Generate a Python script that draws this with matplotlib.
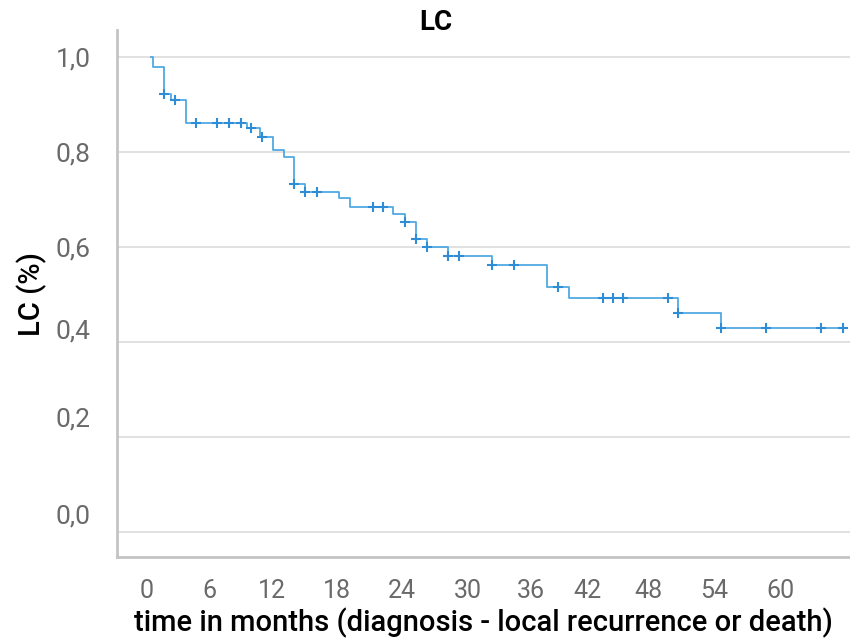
import numpy as np
import matplotlib
matplotlib.use("Agg")
import matplotlib.pyplot as plt
import matplotlib.transforms as mtransforms

plt.rcParams['font.family'] = ['Roboto', 'DejaVu Sans']

# Kaplan-Meier step data (months, survival after the drop)
event_t = [0.2, 1.2, 1.9, 3.3, 9.1, 10.3, 11.6, 12.6, 13.6, 14.6, 17.8, 18.9,
           22.9, 24.1, 25.1, 26.2, 28.2, 32.3, 37.5, 39.6, 50.0, 54.0]
event_s = [0.979, 0.922, 0.909, 0.861, 0.850, 0.831, 0.804, 0.789, 0.732, 0.716,
           0.703, 0.684, 0.669, 0.652, 0.616, 0.600, 0.581, 0.562, 0.515, 0.492,
           0.460, 0.429]
# censored observations
censor_t = [1.2, 2.3, 4.3, 6.3, 7.4, 8.5, 9.5, 10.5, 13.6, 14.6, 15.7, 21.0,
            22.0, 24.1, 25.1, 26.2, 28.2, 29.2, 32.3, 34.4, 38.6, 42.8, 43.8,
            44.7, 49.0, 50.0, 54.0, 58.3, 63.5, 65.6]
end_t = 65.6

yticks = [0.0, 0.2, 0.4, 0.6, 0.8, 1.0]
xticks = [0, 6, 12, 18, 24, 30, 36, 42, 48, 54, 60]

# step function
step_t = [0] + event_t + [end_t]
step_s = [1.0] + event_s + [event_s[-1]]

def surv_at(t):
    s = 1.0
    for et, es in zip(event_t, event_s):
        if et <= t + 1e-9:
            s = es
    return s

censor_s = [surv_at(t) for t in censor_t]

fig = plt.figure(figsize=(8.5, 6.42), dpi=100)
ax = fig.add_axes([117/850, 85/642, 733/850, 527/642])

ax.step(step_t, step_s, where='post', color='#52a9e2', lw=1.3, zorder=3)
ax.plot(censor_t, censor_s, linestyle='none', marker='+', color='#2e8dd6',
        markersize=7.5, mew=1.5, zorder=4)

ax.set_xlim(-3.22, 66.26)
ax.set_ylim(-0.0537, 1.0569)
ax.set_xticks(xticks)
ax.set_yticks(yticks)
ax.set_xticklabels([str(x) for x in xticks])
ax.set_yticklabels([('%.1f' % y).replace('.', ',') for y in yticks])
ax.grid(axis='y', color='#dcdcdc', lw=1.2)
ax.set_axisbelow(True)

for s in ['top', 'right']:
    ax.spines[s].set_visible(False)
for s in ['left', 'bottom']:
    ax.spines[s].set_color('#c4c4c4')
    ax.spines[s].set_linewidth(2)

ax.tick_params(axis='both', length=0, labelsize=18, labelcolor='#6a6a6a')
ax.tick_params(axis='x', pad=16)
ax.tick_params(axis='y', pad=19, labelsize=19)

# the original labels sit a little off their ticks
y_shift = [18, 20, 13, 0, 0, 0]
for lab, dy in zip(ax.get_yticklabels(), y_shift):
    lab.set_transform(lab.get_transform() +
                      mtransforms.ScaledTranslation(0, dy/100, fig.dpi_scale_trans))
x_shift = [-4, -5, -6, -4, -2, 0, 0, -7, -9, -6, -4]
for lab, dx in zip(ax.get_xticklabels(), x_shift):
    lab.set_transform(lab.get_transform() +
                      mtransforms.ScaledTranslation(dx/100, 0, fig.dpi_scale_trans))

ax.set_xlabel('time in months (diagnosis - local recurrence or death)',
              fontsize=21, fontweight='medium', color='black', labelpad=3)
ax.set_ylabel('LC (%)', fontsize=21, fontweight='medium', color='black', labelpad=6)
ax.set_title('LC', fontsize=20, fontweight='bold', x=0.435, y=1.0, pad=0)

fig.savefig('out.png', dpi=100)
